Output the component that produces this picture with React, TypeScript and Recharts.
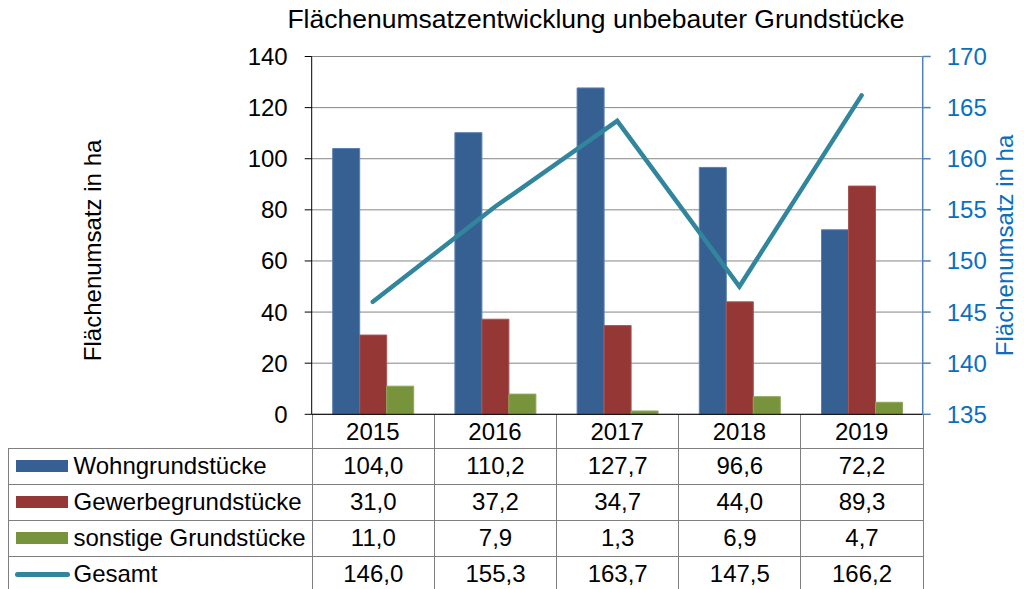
import React from "react";
import {
  ComposedChart,
  Bar,
  Line,
  XAxis,
  YAxis,
  CartesianGrid,
} from "recharts";

const years = ["2015", "2016", "2017", "2018", "2019"];
const wohn = [104.0, 110.2, 127.7, 96.6, 72.2];
const gewerbe = [31.0, 37.2, 34.7, 44.0, 89.3];
const sonstige = [11.0, 7.9, 1.3, 6.9, 4.7];
const gesamt = [146.0, 155.3, 163.7, 147.5, 166.2];
const leftTicks = [0, 20, 40, 60, 80, 100, 120, 140];
const rightTicks = [135, 140, 145, 150, 155, 160, 165, 170];

const series = [
  { key: "wohn", name: "Wohngrundstücke", values: wohn, color: "#376092", edge: "#5A7FB0" },
  { key: "gewerbe", name: "Gewerbegrundstücke", values: gewerbe, color: "#953735", edge: "#A85452" },
  { key: "sonstige", name: "sonstige Grundstücke", values: sonstige, color: "#77933C", edge: "#8DA85A" },
];
const lineColor = "#31859C";
const font = "'Liberation Sans', Arial, sans-serif";

const data = years.map((y, i) => ({
  year: y,
  wohn: wohn[i],
  gewerbe: gewerbe[i],
  sonstige: sonstige[i],
  gesamt: gesamt[i],
}));

const fmt = (v: number) => v.toFixed(1).replace(".", ",");

const firstCol = 304.2;
const colW = 122.2;
const gridLine = "#7f7f7f";

function DataTable() {
  const rows = [
    ...series.map((s) => ({ name: s.name, values: s.values, color: s.color, isLine: false })),
    { name: "Gesamt", values: gesamt, color: lineColor, isLine: true },
  ];
  const cell: React.CSSProperties = {
    borderLeft: `1px solid ${gridLine}`,
    borderBottom: `1px solid ${gridLine}`,
    textAlign: "center",
    padding: 0,
    boxSizing: "border-box",
  };
  return (
    <table
      style={{
        position: "absolute",
        left: 7.5,
        top: 414.3,
        width: firstCol + colW * years.length,
        borderCollapse: "collapse",
        tableLayout: "fixed",
        fontFamily: font,
        fontSize: 24,
        color: "#000",
      }}
    >
      <colgroup>
        <col style={{ width: firstCol }} />
        {years.map((y) => (
          <col key={y} style={{ width: colW }} />
        ))}
      </colgroup>
      <tbody>
        <tr style={{ height: 34 }}>
          <td style={{ padding: 0, borderBottom: `1px solid ${gridLine}` }} />
          {years.map((y, i) => (
            <td
              key={y}
              style={{ ...cell, borderRight: i === years.length - 1 ? `1px solid ${gridLine}` : undefined }}
            />
          ))}
        </tr>
        {rows.map((r) => (
          <tr key={r.name} style={{ height: 36 }}>
            <td style={{ padding: 0, borderLeft: `1px solid ${gridLine}`, borderBottom: `1px solid ${gridLine}` }}>
              <div style={{ display: "flex", alignItems: "center", whiteSpace: "nowrap" }}>
                {r.isLine ? (
                  <span
                    style={{
                      display: "inline-block",
                      width: 55,
                      height: 5,
                      borderRadius: 3,
                      background: r.color,
                      marginLeft: 6,
                      marginRight: 4,
                    }}
                  />
                ) : (
                  <span
                    style={{
                      display: "inline-block",
                      width: 52,
                      height: 12,
                      background: r.color,
                      marginLeft: 7,
                      marginRight: 6,
                    }}
                  />
                )}
                <span>{r.name}</span>
              </div>
            </td>
            {r.values.map((v, i) => (
              <td
                key={i}
                style={{ ...cell, borderRight: i === r.values.length - 1 ? `1px solid ${gridLine}` : undefined }}
              >
                {fmt(v)}
              </td>
            ))}
          </tr>
        ))}
      </tbody>
    </table>
  );
}

export default function App() {
  return (
    <div
      style={{
        position: "absolute",
        left: 0,
        top: 0,
        width: 1024,
        height: 589,
        overflow: "hidden",
        background: "#fff",
        fontFamily: font,
      }}
    >
      <div
        style={{
          position: "absolute",
          left: 0,
          width: 1192,
          top: 4,
          textAlign: "center",
          fontSize: 26.5,
          color: "#000",
        }}
      >
        Flächenumsatzentwicklung unbebauter Grundstücke
      </div>
      <DataTable />
      <div style={{ position: "absolute", left: 0, top: 0 }}>
        <ComposedChart
          width={1024}
          height={589}
          data={data}
          margin={{ top: 56.5, right: 1.3, bottom: 140.7, left: 0 }}
          barGap={0}
          barSize={27}
        >
          <CartesianGrid yAxisId="left" vertical={false} stroke="#868686" />
          <XAxis
            dataKey="year"
            height={34}
            axisLine={{ stroke: "#000" }}
            tickLine={false}
            tickSize={0}
            tickMargin={9}
            tick={{ fill: "#000", fontSize: 24, fontFamily: font }}
          />
          <YAxis
            yAxisId="left"
            width={311.7}
            domain={[0, 140]}
            ticks={leftTicks}
            interval={0}
            axisLine={{ stroke: "#000" }}
            tickLine={{ stroke: "#000" }}
            tickSize={7}
            tickMargin={17}
            tick={{ fill: "#000", fontSize: 24, fontFamily: font }}
            label={{
              value: "Flächenumsatz in ha",
              angle: -90,
              position: "center",
              dx: -63,
              dy: 15,
              style: { fill: "#000", fontSize: 24, fontFamily: font },
            }}
          />
          <YAxis
            yAxisId="right"
            orientation="right"
            width={100}
            domain={[135, 170]}
            ticks={rightTicks}
            interval={0}
            axisLine={{ stroke: "#4F81BD", strokeWidth: 1.5 }}
            tickLine={{ stroke: "#4F81BD", strokeWidth: 1.5 }}
            tickSize={8}
            tickMargin={16}
            tick={{ fill: "#0B6FC0", fontSize: 24, fontFamily: font }}
            label={{
              value: "Flächenumsatz in ha",
              angle: -90,
              position: "center",
              dx: 32,
              dy: 10,
              style: { fill: "#0B6FC0", fontSize: 24, fontFamily: font },
            }}
          />
          {series.map((s) => (
            <Bar
              key={s.key}
              yAxisId="left"
              dataKey={s.key}
              name={s.name}
              fill={s.color}
              stroke={s.edge}
              strokeWidth={1}
              isAnimationActive={false}
            />
          ))}
          <Line
            yAxisId="right"
            dataKey="gesamt"
            name="Gesamt"
            stroke={lineColor}
            strokeWidth={4.5}
            strokeLinecap="round"
            strokeLinejoin="miter"
            dot={false}
            activeDot={false}
            isAnimationActive={false}
          />
        </ComposedChart>
      </div>
    </div>
  );
}
